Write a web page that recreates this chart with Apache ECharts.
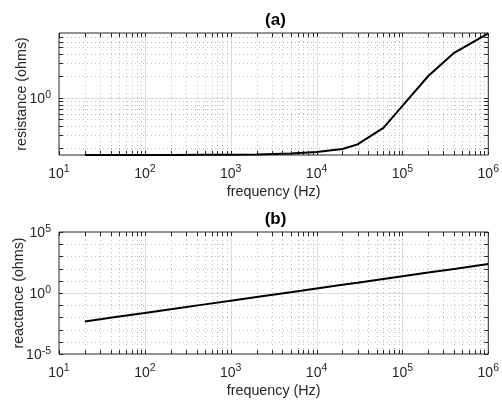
<!DOCTYPE html>
<html>
<head>
<meta charset="utf-8">
<script src="https://cdn.jsdelivr.net/npm/echarts@6/dist/echarts.min.js"></script>
<style>
html,body{margin:0;padding:0;background:#fff;}
#chart{width:502px;height:401px;}
</style>
</head>
<body>
<div id="chart"></div>
<script>
// ---- data ----
const frequency = [20, 50, 100, 200, 500, 1000, 2000, 5000, 10000, 20000, 30000, 60000, 100000, 200000, 400000, 1000000];
const resistance = [0.160, 0.160, 0.160, 0.160, 0.161, 0.161, 0.163, 0.168, 0.176, 0.194, 0.225, 0.38, 0.77, 2.0, 4.2, 7.8];
const reactance = [0.0047, 0.0117, 0.0234, 0.047, 0.117, 0.234, 0.47, 1.17, 2.34, 4.7, 7.0, 14, 23.4, 47, 94, 234];
const titles = ['(a)', '(b)'];
const xName = 'frequency (Hz)';
const yNames = ['resistance (ohms)', 'reactance (ohms)'];
const xRange = [10, 1e6];
const yRangeA = [0.16, 7.9];
const yRangeB = [1e-5, 1e5];
// grid line values
const xMajor = [10, 100, 1000, 10000, 100000, 1000000];
const xMinor = [];
for (let k = 1; k <= 5; k++) for (let m = 2; m <= 9; m++) xMinor.push(m * Math.pow(10, k));
const yMajorA = [1];
const yMinorA = [0.2, 0.3, 0.4, 0.5, 0.6, 0.7, 0.8, 0.9, 2, 3, 4, 5, 6, 7];
const yMajorB = [1e-5, 1, 1e5];
const yMinorB = [1e-4, 1e-3, 1e-2, 1e-1, 10, 100, 1000, 10000];

const TXT = '#262626';
const FONT = 'Liberation Sans, Arial, Helvetica, sans-serif';

function expLabel(v) {
  const l = Math.log10(v);
  const e = Math.round(l);
  if (Math.abs(l - e) > 1e-6) return '';
  return '{b|10}{s|' + e + '}';
}
const richLab = {
  b: {fontSize: 14, color: TXT, fontFamily: FONT, lineHeight: 17, verticalAlign: 'bottom'},
  s: {fontSize: 10.5, color: TXT, fontFamily: FONT, lineHeight: 17, verticalAlign: 'bottom', padding: [0, 0, 6, 0]}
};

function gridItems(xMaj, xMin, yMaj, yMin, yRef) {
  const items = [];
  xMaj.forEach(v => items.push([v, yRef, 0, 1]));
  xMin.forEach(v => items.push([v, yRef, 0, 0]));
  yMaj.forEach(v => items.push([100, v, 1, 1]));
  yMin.forEach(v => items.push([100, v, 1, 0]));
  return items;
}

function renderGrid(params, api) {
  const cs = params.coordSys;
  const orient = api.value(2), major = api.value(3);
  const p = api.coord([api.value(0), api.value(1)]);
  const children = [];
  const gridStyle = major ? {stroke: '#dcdcdc', lineWidth: 1} : {stroke: '#bdbdbd', lineWidth: 1, lineDash: [1, 3]};
  const tl = 4;
  const tickStyle = {stroke: TXT, lineWidth: 1};
  if (orient === 0) {
    const x = Math.round(p[0]) + 0.5;
    if (!(x <= cs.x + 1 || x >= cs.x + cs.width - 1)) {
      children.push({type: 'line', shape: {x1: x, y1: cs.y, x2: x, y2: cs.y + cs.height}, style: gridStyle, silent: true});
    }
    children.push({type: 'line', shape: {x1: x, y1: cs.y + cs.height, x2: x, y2: cs.y + cs.height - tl}, style: tickStyle, z2: 5});
    children.push({type: 'line', shape: {x1: x, y1: cs.y, x2: x, y2: cs.y + tl}, style: tickStyle, z2: 5});
  } else {
    const y = Math.round(p[1]) + 0.5;
    if (!(y <= cs.y + 1 || y >= cs.y + cs.height - 1)) {
      children.push({type: 'line', shape: {x1: cs.x, y1: y, x2: cs.x + cs.width, y2: y}, style: gridStyle, silent: true});
    }
    children.push({type: 'line', shape: {x1: cs.x, y1: y, x2: cs.x + tl, y2: y}, style: tickStyle, z2: 5});
    children.push({type: 'line', shape: {x1: cs.x + cs.width, y1: y, x2: cs.x + cs.width - tl, y2: y}, style: tickStyle, z2: 5});
  }
  return {type: 'group', children: children};
}

function xAxisDef(idx) {
  return {
    type: 'log', logBase: 10, gridIndex: idx, min: xRange[0], max: xRange[1],
    name: xName, nameLocation: 'middle', nameGap: 30, nameMoveOverlap: false,
    nameTextStyle: {fontSize: 14.3, color: TXT, fontFamily: FONT},
    axisLine: {show: false}, axisTick: {show: false}, splitLine: {show: false}, minorTick: {show: false},
    axisLabel: {formatter: expLabel, rich: richLab, margin: 9, showMinLabel: true, showMaxLabel: true}
  };
}
function yAxisDef(idx, range, gap) {
  return {
    type: 'log', logBase: 10, gridIndex: idx, min: range[0], max: range[1],
    name: yNames[idx], nameLocation: 'middle', nameGap: gap, nameRotate: 90, nameMoveOverlap: false,
    nameTextStyle: {fontSize: 14.3, color: TXT, fontFamily: FONT},
    axisLine: {show: false}, axisTick: {show: false}, splitLine: {show: false}, minorTick: {show: false},
    axisLabel: {formatter: expLabel, rich: richLab, margin: 8, showMinLabel: true, showMaxLabel: true}
  };
}

const chart = echarts.init(document.getElementById('chart'), null, {renderer: 'canvas'});
chart.setOption({
  backgroundColor: '#fff',
  animation: false,
  graphic: [
    {type: 'text', x: 275.5, y: 20.5, z: 10, style: {text: titles[0], textAlign: 'center', textVerticalAlign: 'middle', fontSize: 17, fontWeight: 'bold', fill: '#000', fontFamily: FONT}},
    {type: 'text', x: 275.5, y: 219.5, z: 10, style: {text: titles[1], textAlign: 'center', textVerticalAlign: 'middle', fontSize: 17, fontWeight: 'bold', fill: '#000', fontFamily: FONT}}
  ],
  grid: [
    {left: 59, top: 33, width: 433, height: 122, show: true, borderColor: TXT, borderWidth: 1, backgroundColor: '#fff'},
    {left: 59, top: 232, width: 433, height: 122, show: true, borderColor: TXT, borderWidth: 1, backgroundColor: '#fff'}
  ],
  xAxis: [xAxisDef(0), xAxisDef(1)],
  yAxis: [yAxisDef(0, yRangeA, 30), yAxisDef(1, yRangeB, 33)],
  series: [
    {type: 'custom', xAxisIndex: 0, yAxisIndex: 0, renderItem: renderGrid, clip: false, silent: true, z: 1,
     data: gridItems(xMajor, xMinor, yMajorA, yMinorA, 1)},
    {type: 'custom', xAxisIndex: 1, yAxisIndex: 1, renderItem: renderGrid, clip: false, silent: true, z: 1,
     data: gridItems(xMajor, xMinor, yMajorB, yMinorB, 1)},
    {type: 'line', xAxisIndex: 0, yAxisIndex: 0, showSymbol: false, symbol: 'none', z: 3, clip: false,
     lineStyle: {color: '#000', width: 2}, data: frequency.map((f, i) => [f, resistance[i]])},
    {type: 'line', xAxisIndex: 1, yAxisIndex: 1, showSymbol: false, symbol: 'none', z: 3, clip: false,
     lineStyle: {color: '#000', width: 2}, data: frequency.map((f, i) => [f, reactance[i]])}
  ]
});
</script>
</body>
</html>
